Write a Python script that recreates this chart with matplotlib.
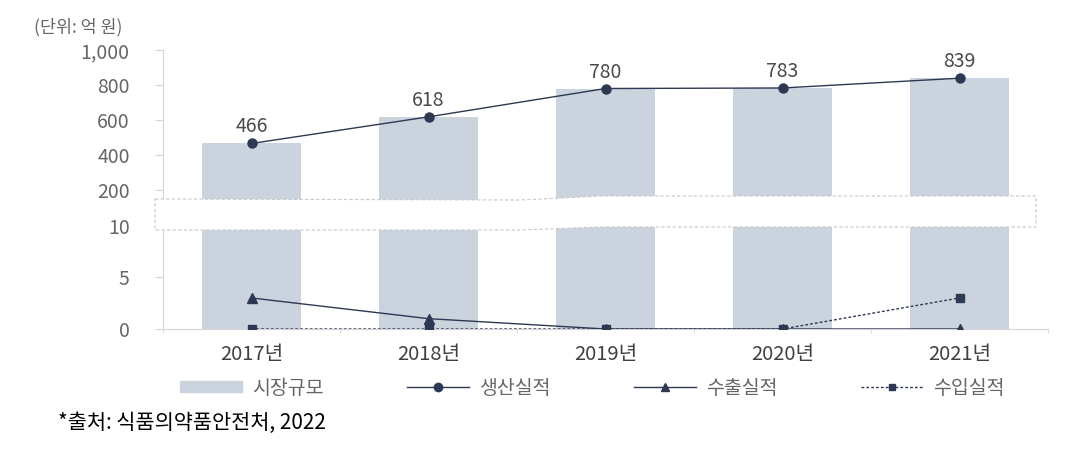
import numpy as np
import matplotlib.pyplot as plt
from matplotlib.patches import Patch, Polygon
from matplotlib.lines import Line2D

plt.rcParams['font.family'] = ['Noto Sans CJK KR', 'DejaVu Sans']

years = ['2017년', '2018년', '2019년', '2020년', '2021년']
market = [466, 618, 780, 783, 839]       # 시장규모
production = [466, 618, 780, 783, 839]   # 생산실적
export = [3, 1, 0, 0, 0]                 # 수출실적
imports = [0, 0, 0, 0, 3]                # 수입실적

top_ticks = [200, 400, 600, 800, 1000]
top_labels = ['200', '400', '600', '800', '1,000']
bot_ticks = [0, 5, 10]

bar_c = '#cbd3df'
line_c = '#2d3852'
txt_c = '#666666'
axis_c = '#d4d4d4'

W, H = 1069, 450
fig = plt.figure(figsize=(W / 100, H / 100), dpi=100)


def box(x0, y0, x1, y1):
    return [x0 / W, 1 - y1 / H, (x1 - x0) / W, (y1 - y0) / H]


ax_top = fig.add_axes(box(163, 50, 1048, 200))
ax_bot = fig.add_axes(box(163, 222, 1048, 329))
x = np.arange(len(years))

for ax in (ax_top, ax_bot):
    ax.bar(x, market, width=0.56, color=bar_c, zorder=1)
    ax.set_xlim(-0.5, len(years) - 0.5)
    for s in ('top', 'right'):
        ax.spines[s].set_visible(False)
    ax.spines['left'].set_color(axis_c)
    ax.tick_params(axis='y', colors=axis_c, labelcolor=txt_c, labelsize=14,
                   length=6, width=0.8, pad=18)

# upper part
ax_top.plot(x, production, color=line_c, lw=1, marker='o', ms=6.5, zorder=3)
for xi, v in zip(x, production):
    ax_top.annotate(str(v), (xi, v), xytext=(0, 11), textcoords='offset pixels',
                    ha='center', va='baseline', fontsize=14, color='#4a4a4a')
ax_top.set_ylim(143, 1000)
ax_top.set_yticks(top_ticks)
ax_top.set_yticklabels(top_labels)
ax_top.spines['bottom'].set_visible(False)
ax_top.set_xticks([])

# lower part
ax_bot.plot(x, export, color=line_c, lw=1, marker='^', ms=7, zorder=3)
ax_bot.plot(x, imports, color=line_c, lw=1, ls=(0, (2, 1.5)), marker='s', ms=6,
            zorder=3)
ax_bot.set_ylim(0, 10.34)
ax_bot.set_yticks(bot_ticks)
ax_bot.spines['bottom'].set_color(axis_c)
ax_bot.set_xticks(x)
ax_bot.set_xticklabels(years, fontsize=14.5, color='#404040')
ax_bot.tick_params(axis='x', length=0, pad=11)
ax_bot.set_xticks(np.arange(-0.5, len(years)), minor=True)
ax_bot.tick_params(axis='x', which='minor', length=3, color=axis_c)

# axis break band
pts = [(155, 199), (520, 200), (600, 196), (1036, 196),
       (1036, 227), (600, 227), (520, 230), (155, 230)]
band = Polygon([(px / W, 1 - py / H) for px, py in pts], closed=True,
               transform=fig.transFigure, facecolor='white', edgecolor='#c8c8c8',
               lw=0.8, ls=(0, (3, 2)), zorder=10)
fig.add_artist(band)

fig.text(34 / W, 1 - 27 / H, '(단위: 억 원)', fontsize=12.5, color=txt_c,
         va='center', ha='left')

handles = [
    Patch(color=bar_c, label='시장규모'),
    Line2D([], [], color=line_c, lw=1, marker='o', ms=6, label='생산실적'),
    Line2D([], [], color=line_c, lw=1, marker='^', ms=6, label='수출실적'),
    Line2D([], [], color=line_c, lw=1, ls=(0, (2, 1.5)), marker='s', ms=5,
           label='수입실적'),
]
leg = fig.legend(handles=handles, loc='center', bbox_to_anchor=(592 / W, 1 - 388 / H),
                 ncol=4, frameon=False, fontsize=14, handlelength=3.2,
                 handleheight=0.5, columnspacing=4.3, handletextpad=0.5)
for t in leg.get_texts():
    t.set_color(txt_c)

fig.text(58 / W, 1 - 423 / H, '*출처: 식품의약품안전처, 2022', fontsize=15,
         color='black', va='center', ha='left')

fig.savefig('out.png', dpi=100)
